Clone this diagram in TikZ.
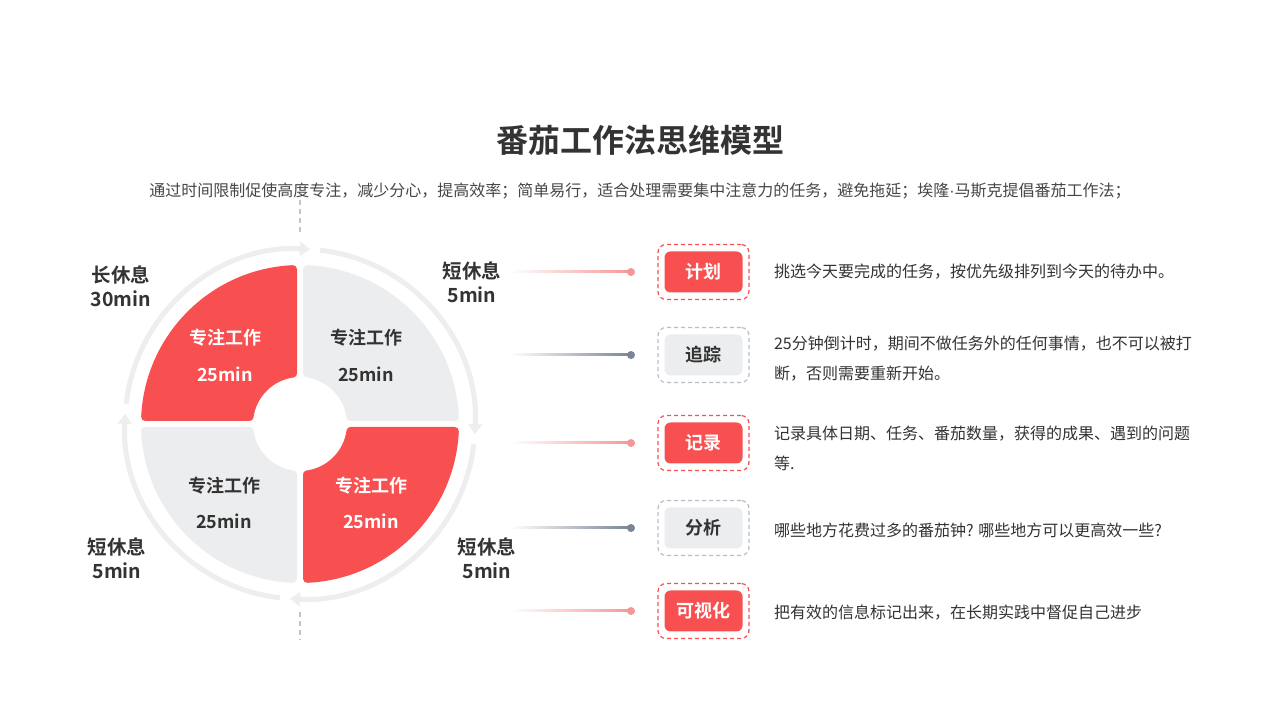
\documentclass[tikz,border=0pt]{standalone}
\usepackage{fontspec}
\setmainfont{Noto Sans CJK SC}[BoldFont={Noto Sans CJK SC Bold}]
\newfontfamily\latinfont{Liberation Sans}
\usetikzlibrary{arrows.meta,calc}

\definecolor{tomato}{HTML}{F85050}
\definecolor{mist}{HTML}{ECEDEF}
\definecolor{ring}{HTML}{EEEEF0}
\definecolor{ink}{HTML}{333333}
\definecolor{pink}{HTML}{F69696}
\definecolor{slate}{HTML}{7B8595}
\definecolor{slatedash}{HTML}{B8BEC8}
\definecolor{guidegrey}{HTML}{C4C4C4}

\begin{document}
\begin{tikzpicture}[x=1pt, y=1pt,
	quarter/.style={line width=8pt, line join=round},
	lap/.style={line width=5pt, draw=ring, -{Triangle[width=14pt,length=10pt]}},
	guide/.style={draw=guidegrey, line width=2pt, dash pattern=on 5pt off 4pt},
	worklabel/.style={font=\bfseries\fontsize{18}{22}\selectfont},
	restlabel/.style={font=\bfseries\fontsize{19.5}{24}\selectfont, align=center, text=ink},
	frame/.style={dashed, dash pattern=on 4pt off 3pt, line width=1.2pt, rounded corners=8pt, minimum width=91pt, minimum height=55pt},
	tag/.style={rounded corners=6pt, minimum width=78pt, minimum height=41pt, font=\bfseries\fontsize{18}{22}\selectfont},
	dot/.style={circle, inner sep=0pt, minimum size=8pt},
	desc/.style={anchor=west, align=left, text=ink, font=\fontsize{16}{30}\selectfont}]
	\fill[white] (0,0) rectangle (1280,720);
	\useasboundingbox (0,0) rectangle (1280,720);

	% title
	\node[text=ink, font=\bfseries\fontsize{32}{36}\selectfont] (title) at (640,580) {番茄工作法思维模型};
	\node[text=ink!90, font=\fontsize{16}{20}\selectfont] (sub) at (640,529) {通过时间限制促使高度专注，减少分心，提高效率；简单易行，适合处理需要集中注意力的任务，避免拖延；埃隆{\latinfont ·}马斯克提倡番茄工作法；};

	% the cycle
	\coordinate (hub) at (300,296);
	\coordinate (gt1) at (300,520);
	\coordinate (gt2) at (300,488);
	\coordinate (gb1) at (300,108);
	\coordinate (gb2) at (300,80);
	\draw[guide] (gt1) -- (gt2);
	\draw[guide] (gb1) -- (gb2);
	\foreach \a/\col in {90/tomato, 0/mist, 270/tomato, 180/mist}
		\filldraw[quarter, fill=\col, draw=\col] ($(hub)+({\a+2.589}:155)$) arc[start angle={\a+2.589}, end angle={\a+87.411}, radius=155]
			-- ($(hub)+({\a+82.111}:51)$) arc[start angle={\a+82.111}, end angle={\a+7.889}, radius=51] -- cycle;
	\foreach \s in {83.4,-6.6,-96.6,-186.6}
		\draw[lap] ($(hub)+(\s:175)$) arc[start angle=\s, end angle={\s-86.7}, radius=175];

	\node[worklabel, text=white] (w1) at (225,382) {专注工作};
	\node[worklabel, text=white] (m1) at (225,346) {25min};
	\node[worklabel, text=ink] (w2) at (366,382) {专注工作};
	\node[worklabel, text=ink] (m2) at (366,346) {25min};
	\node[worklabel, text=white] (w3) at (371,234) {专注工作};
	\node[worklabel, text=white] (m3) at (371,199) {25min};
	\node[worklabel, text=ink] (w4) at (224,234) {专注工作};
	\node[worklabel, text=ink] (m4) at (224,199) {25min};

	\node[restlabel] (r0) at (121,434) {长休息\\30min};
	\node[restlabel] (r1) at (472,438) {短休息\\5min};
	\node[restlabel] (r2) at (487,162) {短休息\\5min};
	\node[restlabel] (r3) at (117,162) {短休息\\5min};

	% steps
	\coordinate (s1) at (510,448);
	\coordinate (e1) at (631,448);
	\shade[left color=white, right color=pink] ($(s1)+(0,-1)$) rectangle ($(e1)+(0,1)$);
	\node[dot, fill=pink] (d1) at (e1) {};
	\node[frame, draw=tomato] (f1) at (703.5,448) {};
	\node[tag, fill=tomato, text=white] (plan) at (f1) {计划};
	\node[desc] (t1) at (770.5,448) {挑选今天要完成的任务，按优先级排列到今天的待办中。};

	\coordinate (s2) at (510,365);
	\coordinate (e2) at (631,365);
	\shade[left color=white, right color=slate] ($(s2)+(0,-1)$) rectangle ($(e2)+(0,1)$);
	\node[dot, fill=slate] (d2) at (e2) {};
	\node[frame, draw=slatedash] (f2) at (703.5,365) {};
	\node[tag, fill=mist, text=ink] (track) at (f2) {追踪};
	\node[desc] (t2) at (770.5,361) {25分钟倒计时，期间不做任务外的任何事情，也不可以被打\\断，否则需要重新开始。};

	\coordinate (s3) at (510,277);
	\coordinate (e3) at (631,277);
	\shade[left color=white, right color=pink] ($(s3)+(0,-1)$) rectangle ($(e3)+(0,1)$);
	\node[dot, fill=pink] (d3) at (e3) {};
	\node[frame, draw=tomato] (f3) at (703.5,277) {};
	\node[tag, fill=tomato, text=white] (record) at (f3) {记录};
	\node[desc] (t3) at (770.5,272) {记录具体日期、任务、番茄数量，获得的成果、遇到的问题\\等.};

	\coordinate (s4) at (510,192);
	\coordinate (e4) at (631,192);
	\shade[left color=white, right color=slate] ($(s4)+(0,-1)$) rectangle ($(e4)+(0,1)$);
	\node[dot, fill=slate] (d4) at (e4) {};
	\node[frame, draw=slatedash] (f4) at (703.5,192) {};
	\node[tag, fill=mist, text=ink] (analyze) at (f4) {分析};
	\node[desc] (t4) at (770.5,190) {哪些地方花费过多的番茄钟? 哪些地方可以更高效一些?};

	\coordinate (s5) at (510,109);
	\coordinate (e5) at (631,109);
	\shade[left color=white, right color=pink] ($(s5)+(0,-1)$) rectangle ($(e5)+(0,1)$);
	\node[dot, fill=pink] (d5) at (e5) {};
	\node[frame, draw=tomato] (f5) at (703.5,109) {};
	\node[tag, fill=tomato, text=white] (visual) at (f5) {可视化};
	\node[desc] (t5) at (770.5,107) {把有效的信息标记出来，在长期实践中督促自己进步};
\end{tikzpicture}
\end{document}
